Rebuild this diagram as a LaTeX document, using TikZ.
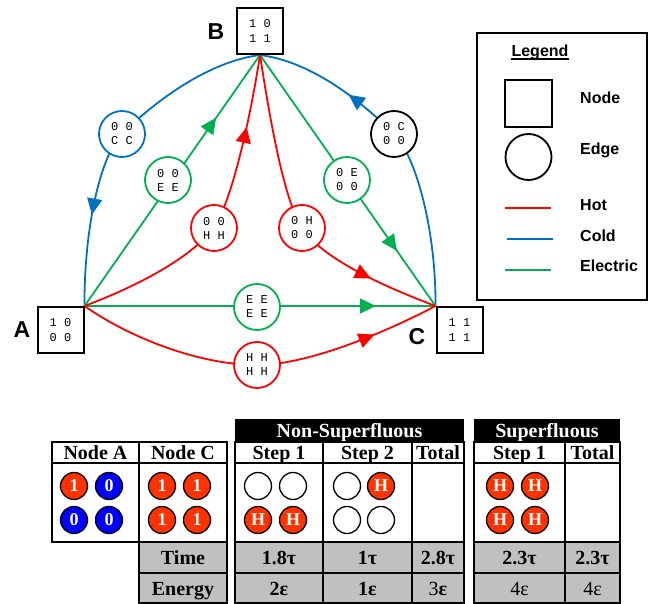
\documentclass[tikz,border=0pt]{standalone}
\usepackage{fontspec}
\setmainfont{Liberation Serif}
\newfontfamily\lsans{Liberation Sans}
\newfontfamily\lmono{Liberation Mono}
\usetikzlibrary{arrows.meta,decorations.markings,backgrounds}

\definecolor{hotc}{HTML}{FF0000}
\definecolor{coldc}{HTML}{0070C0}
\definecolor{elecc}{HTML}{00B050}
\definecolor{chipred}{HTML}{FF3300}
\definecolor{chipblue}{HTML}{0000FF}
\definecolor{cellgray}{HTML}{C0C0C0}

\tikzset{
  statebox/.style={draw, line width=2pt, minimum size=46pt, inner sep=0pt, fill=white,
    font=\lmono\fontsize{12}{15}\selectfont, align=center},
  edgecirc/.style={circle, draw, line width=1.8pt, minimum size=46pt, inner sep=0pt, fill=white,
    font=\lmono\fontsize{12}{14}\selectfont, align=center},
  conn/.style={line width=1.8pt},
  arrowat/.style={postaction={decorate, decoration={markings,
    mark=at position #1 with {\arrow{Triangle[length=16pt,width=15pt]}}}}},
  vlabel/.style={font=\lsans\bfseries\fontsize{23}{23}\selectfont},
  legtext/.style={anchor=base west, inner sep=0pt, font=\lsans\bfseries\fontsize{16}{16}\selectfont},
  tbl/.style={line width=1.6pt},
  ttext/.style={anchor=base, inner sep=0pt, font=\bfseries\fontsize{20}{20}\selectfont},
  htext/.style={anchor=base, inner sep=0pt, text=white, font=\bfseries\fontsize{20}{20}\selectfont},
  chip/.style={circle, draw, line width=1.3pt, minimum size=27pt, inner sep=0pt,
    font=\bfseries\fontsize{18}{18}\selectfont},
  redchip/.style={chip, fill=chipred, text=white},
  bluechip/.style={chip, fill=chipblue, text=white},
  emptychip/.style={chip, fill=white},
}

\begin{document}
\begin{tikzpicture}[x=1pt,y=-1pt]
\useasboundingbox (0,0) rectangle (665,604);

% ---------- state nodes ----------
\node[statebox] (B) at (260,31) {1 0\\1 1};
\node[statebox] (A) at (60.5,330) {1 0\\0 0};
\node[statebox] (C) at (459.5,330) {1 1\\1 1};
\node[vlabel] (labB) at (216,32) {B};
\node[vlabel] (labA) at (22,330) {A};
\node[vlabel] (labC) at (417,337) {C};

% ---------- edge circles ----------
\node[edgecirc, draw=coldc] (cc) at (122,134) {0 0\\C C};
\node[edgecirc, draw=black] (oc) at (394,134) {0 C\\0 0};
\node[edgecirc, draw=elecc] (gl) at (168,180) {0 0\\E E};
\node[edgecirc, draw=elecc] (gr) at (347,180) {0 E\\0 0};
\node[edgecirc, draw=hotc] (rl) at (214,228) {0 0\\H H};
\node[edgecirc, draw=hotc] (rr) at (302,228) {0 H\\0 0};
\node[edgecirc, draw=elecc] (ee) at (257,307) {E E\\E E};
\node[edgecirc, draw=hotc] (hh) at (257,365) {H H\\H H};

% ---------- connectors ----------
\begin{scope}[on background layer]
  % cold
  \draw[conn, coldc, arrowat=0.73] (B.south) .. controls (205,62) and (150,106) .. (cc.center)
        .. controls (100,156) and (84,230) .. (A.north east);
  \draw[conn, coldc, arrowat=0.71] (C.north west) .. controls (436,230) and (416,156) .. (oc.center)
        .. controls (366,106) and (315,62) .. (B.south);
  % electric
  \draw[conn, elecc, arrowat=0.75] (A.north east) -- (B.south);
  \draw[conn, elecc, arrowat=0.78] (B.south) -- (C.north west);
  \draw[conn, elecc, arrowat=0.83] (A.north east) -- (C.north west);
  % hot
  \draw[conn, hotc, arrowat=0.78] (A.north east) .. controls (140,285) and (190,258) .. (rl.center)
        .. controls (232,200) and (250,120) .. (B.south);
  \draw[conn, hotc, arrowat=0.79] (B.south) .. controls (270,120) and (284,200) .. (rr.center)
        .. controls (322,258) and (380,285) .. (C.north west);
  \draw[conn, hotc, arrowat=0.82] (A.north east) .. controls (130,338) and (200,365) .. (hh.center)
        .. controls (310,365) and (390,330) .. (C.north west);
\end{scope}

% ---------- legend ----------
\draw[line width=2pt] (477,33) rectangle (647,300);
\node[anchor=base, inner sep=0pt, font=\lsans\bfseries\fontsize{16}{16}\selectfont] (legT) at (540,57) {Legend};
\draw[line width=1.2pt] (legT.base west) ++(0,2) -- ([yshift=-2pt]legT.base east);
\node[draw, line width=1.8pt, minimum size=47pt, inner sep=0pt] (legN) at (528.5,103.5) {};
\node[circle, draw, line width=1.8pt, minimum size=46pt, inner sep=0pt] (legE) at (528.5,157) {};
\draw[line width=2pt, hotc] (505,208) -- (551,208);
\draw[line width=2pt, coldc] (507,239) -- (553,239);
\draw[line width=2pt, elecc] (505,270) -- (551,270);
\node[legtext] (legNt) at (580,103.5) {Node};
\node[legtext] (legEt) at (580,155) {Edge};
\node[legtext] (legH) at (580,211) {Hot};
\node[legtext] (legC) at (580,241.5) {Cold};
\node[legtext] (legEl) at (580,272) {Electric};

% ---------- table: nodes A and C ----------
\draw[tbl] (52,442) rectangle (139,463) (139,442) rectangle (227,463);
\draw[tbl] (52,463) rectangle (139,542) (139,463) rectangle (227,542);
\filldraw[tbl, fill=cellgray] (139,542) rectangle (227,573) (139,573) rectangle (227,603);
\node[ttext] (hA) at (95.5,460) {Node A};
\node[ttext] (hC) at (183,460) {Node C};
\node[ttext] (tTime) at (183,564) {Time};
\node[ttext] (tEnergy) at (183,595) {Energy};

\node[redchip]  (a1) at (74,486) {1};
\node[bluechip] (a2) at (109,486) {0};
\node[bluechip] (a3) at (74,520) {0};
\node[bluechip] (a4) at (109,520) {0};
\node[redchip] (c1) at (162,486) {1};
\node[redchip] (c2) at (197,486) {1};
\node[redchip] (c3) at (162,520) {1};
\node[redchip] (c4) at (197,520) {1};

% ---------- table: non-superfluous ----------
\fill (235,419) rectangle (464,442);
\node[htext] (hNS) at (349.5,438) {Non-Superfluous};
\draw[tbl] (235,442) rectangle (323,463) (323,442) rectangle (412,463) (412,442) rectangle (464,463);
\draw[tbl] (235,463) rectangle (323,542) (323,463) rectangle (412,542) (412,463) rectangle (464,542);
\filldraw[tbl, fill=cellgray] (235,542) rectangle (323,573) (323,542) rectangle (412,573) (412,542) rectangle (464,573);
\filldraw[tbl, fill=cellgray] (235,573) rectangle (323,603) (323,573) rectangle (412,603) (412,573) rectangle (464,603);
\node[ttext] (ns1) at (279,460) {Step 1};
\node[ttext] (ns2) at (367.5,460) {Step 2};
\node[ttext] (nst) at (438,460) {Total};
\node[ttext] (nsT1) at (279,564) {1.8τ};
\node[ttext] (nsT2) at (367.5,564) {1τ};
\node[ttext] (nsTt) at (438,564) {2.8τ};
\node[ttext] (nsE1) at (279,595) {2ε};
\node[ttext] (nsE2) at (367.5,595) {1ε};
\node[ttext] (nsEt) at (438,595) {\mdseries 3\bfseries ε};

\node[emptychip] (s1a) at (258,486) {};
\node[emptychip] (s1b) at (293,486) {};
\node[redchip]   (s1c) at (258,520) {H};
\node[redchip]   (s1d) at (293,520) {H};
\node[emptychip] (s2a) at (347,486) {};
\node[redchip]   (s2b) at (381,486) {H};
\node[emptychip] (s2c) at (347,520) {};
\node[emptychip] (s2d) at (381,520) {};

% ---------- table: superfluous ----------
\fill (474,419) rectangle (620,442);
\node[htext] (hS) at (547,438) {Superfluous};
\draw[tbl] (474,442) rectangle (565,463) (565,442) rectangle (620,463);
\draw[tbl] (474,463) rectangle (565,542) (565,463) rectangle (620,542);
\filldraw[tbl, fill=cellgray] (474,542) rectangle (565,573) (565,542) rectangle (620,573);
\filldraw[tbl, fill=cellgray] (474,573) rectangle (565,603) (565,573) rectangle (620,603);
\node[ttext] (sp1) at (519.5,460) {Step 1};
\node[ttext] (spt) at (592.5,460) {Total};
\node[ttext] (spT1) at (519.5,564) {2.3τ};
\node[ttext] (spTt) at (592.5,564) {2.3τ};
\node[ttext, font=\mdseries\fontsize{20}{20}\selectfont] (spE1) at (519.5,595) {4ε};
\node[ttext, font=\mdseries\fontsize{20}{20}\selectfont] (spEt) at (592.5,595) {4ε};

\node[redchip] (p1) at (500,486) {H};
\node[redchip] (p2) at (535,486) {H};
\node[redchip] (p3) at (500,520) {H};
\node[redchip] (p4) at (535,520) {H};
\end{tikzpicture}
\end{document}
